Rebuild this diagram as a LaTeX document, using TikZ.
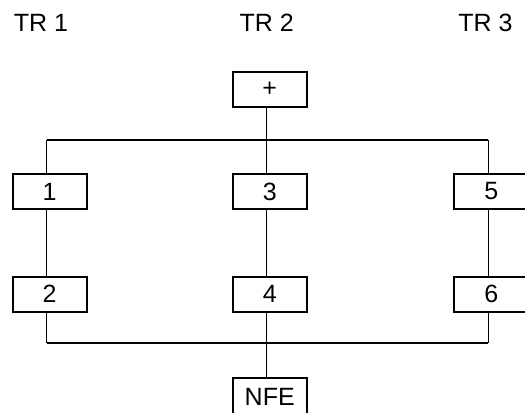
\documentclass[tikz,border=0pt]{standalone}
\usepackage{fontspec}
\setmainfont{Liberation Sans}
\begin{document}
\begin{tikzpicture}[x=0.75pt,y=-0.75pt,
  stepbox/.style={draw, line width=1.5pt, rectangle, minimum width=55.5pt,
    minimum height=26.25pt, inner sep=0pt, font=\fontsize{18.75pt}{20pt}\selectfont},
  lbl/.style={inner sep=0pt, font=\fontsize{18.75pt}{20pt}\selectfont},
  conn/.style={line width=1pt}]
\useasboundingbox (0,0) rectangle (525,412);

% column headings
\node[lbl] (h1) at (41,22.5) {TR 1};
\node[lbl] (h2) at (266.7,22.5) {TR 2};
\node[lbl] (h3) at (485.5,22.5) {TR 3};

% boxes
\node[stepbox] (plus) at (269.7,89.5) {+};
\node[stepbox] (b1) at (49.7,191.5) {1};
\node[stepbox] (b3) at (269.7,191.5) {3};
\node[stepbox] (b5) at (491.3,191.5) {5};
\node[stepbox] (b2) at (49.7,294) {2};
\node[stepbox] (b4) at (269.7,294) {4};
\node[stepbox] (b6) at (491.3,294) {6};
\node[stepbox, minimum height=28.5pt] (nfe) at (269.7,397) {NFE};

% branching and joining bars
\coordinate (tl) at (46.7,140);
\coordinate (tm) at (266.7,140);
\coordinate (tr) at (488.3,140);
\coordinate (bl) at (46.7,343);
\coordinate (bm) at (266.7,343);
\coordinate (br) at (488.3,343);

\draw[conn] ([xshift=-2.25pt]plus.south) -- (tm);
\draw[conn] (tl) -- (tr);
\draw[conn] (tl) -- ([xshift=-2.25pt]b1.north);
\draw[conn] (tm) -- ([xshift=-2.25pt]b3.north);
\draw[conn] (tr) -- ([xshift=-2.25pt]b5.north);
\draw[conn] ([xshift=-2.25pt]b1.south) -- ([xshift=-2.25pt]b2.north);
\draw[conn] ([xshift=-2.25pt]b3.south) -- ([xshift=-2.25pt]b4.north);
\draw[conn] ([xshift=-2.25pt]b5.south) -- ([xshift=-2.25pt]b6.north);
\draw[conn] ([xshift=-2.25pt]b2.south) -- (bl);
\draw[conn] ([xshift=-2.25pt]b6.south) -- (br);
\draw[conn] (bl) -- (br);
\draw[conn] ([xshift=-2.25pt]b4.south) -- ([xshift=-2.25pt]nfe.north);
\end{tikzpicture}
\end{document}
